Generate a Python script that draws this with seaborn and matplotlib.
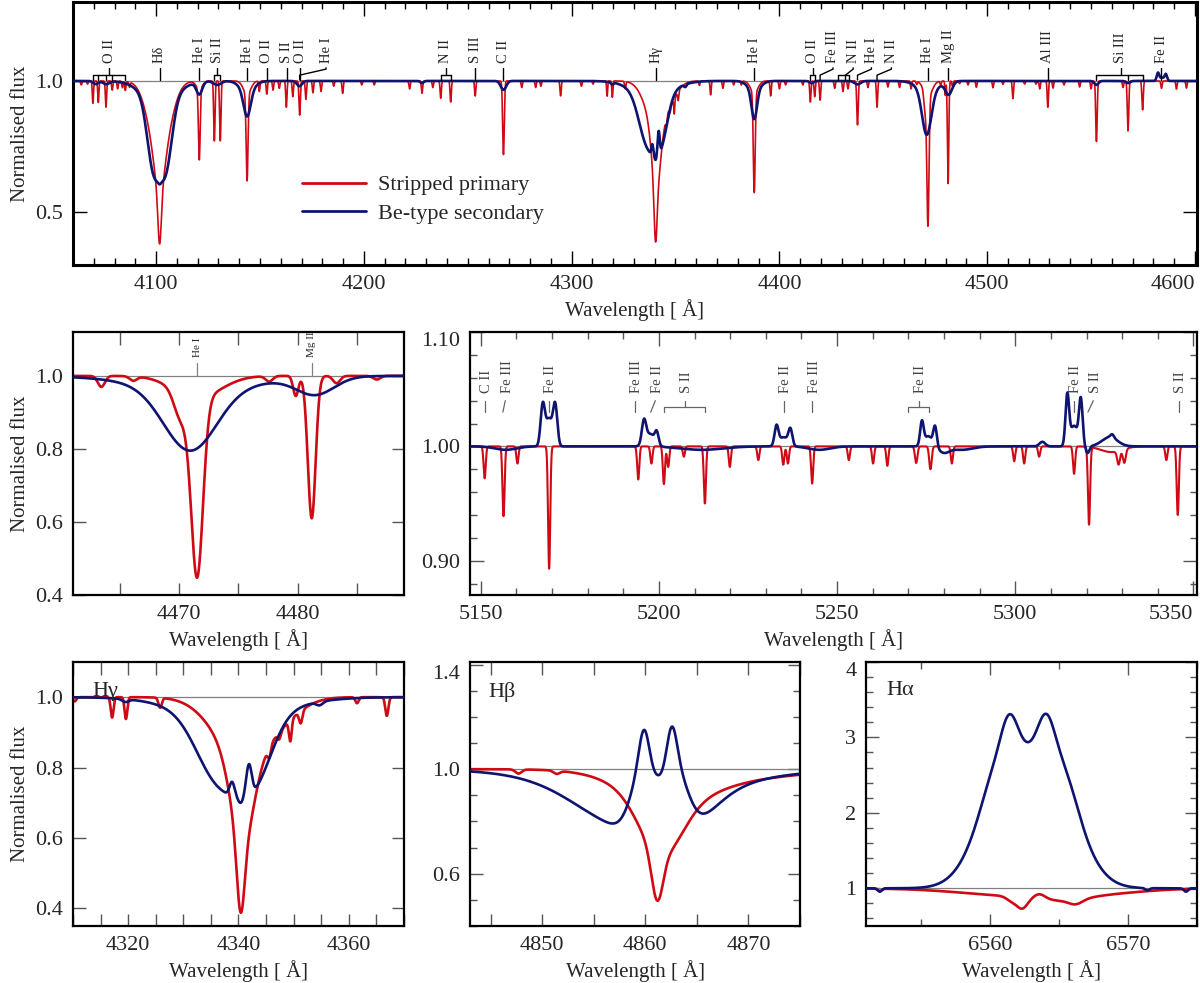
import numpy as np
import matplotlib
matplotlib.use('Agg')
import matplotlib.pyplot as plt
from matplotlib.ticker import MultipleLocator, FuncFormatter
import seaborn as sns

sns.set_style('ticks')
plt.rcParams['font.family'] = ['Liberation Serif', 'DejaVu Serif']

RED = '#cf0a15'
NAVY = '#0e1470'
GREY = '#808080'

# spectral features: (centre [A], depth/height, gaussian width [A])
primary_blue_lines = [
    (4064.0, -0.015, 0.3), (4067.0, -0.012, 0.3),
    (4069.6, -0.085, 0.28), (4072.2, -0.082, 0.28), (4075.9, -0.10, 0.3),
    (4078.9, -0.035, 0.3), (4081.5, -0.03, 0.3), (4083.8, -0.025, 0.3),
    (4085.2, -0.035, 0.3), (4087.2, -0.02, 0.3),
    (4101.7, -0.30, 5.0), (4101.7, -0.13, 2.2), (4101.7, -0.19, 0.8),   # H delta
    (4120.8, -0.27, 0.42), (4120.8, -0.03, 1.5),
    (4128.05, -0.228, 0.33), (4130.9, -0.228, 0.33),
    (4143.8, -0.33, 0.45), (4143.8, -0.05, 1.8),
    (4149.7, -0.04, 0.3), (4153.3, -0.05, 0.3), (4156.3, -0.035, 0.3),
    (4159.3, -0.028, 0.3), (4162.7, -0.10, 0.3), (4165.8, -0.06, 0.3),
    (4169.1, -0.13, 0.33), (4172.1, -0.07, 0.3), (4175.5, -0.045, 0.3),
    (4179.4, -0.04, 0.3), (4185.5, -0.02, 0.3), (4189.8, -0.047, 0.3),
    (4199.0, -0.015, 0.3), (4205.0, -0.015, 0.3), (4222.0, -0.03, 0.3),
    (4228.0, -0.047, 0.3), (4233.2, -0.025, 0.3), (4237.0, -0.066, 0.3),
    (4241.8, -0.08, 0.3), (4253.6, -0.057, 0.3), (4267.2, -0.28, 0.4),
    (4276.0, -0.025, 0.3), (4282.7, -0.025, 0.3), (4285.2, -0.02, 0.3),
    (4294.7, -0.057, 0.3), (4304.7, -0.02, 0.3), (4310.3, -0.012, 0.3),
    (4317.1, -0.058, 0.25), (4319.6, -0.062, 0.25), (4325.8, -0.028, 0.3),
    (4340.4, -0.20, 0.7), (4340.7, -0.24, 2.0), (4340.7, -0.17, 5.0),   # H gamma
    (4348.0, -0.03, 4.0),
    (4345.6, -0.03, 0.3), (4347.4, -0.02, 0.3), (4349.4, -0.06, 0.25),
    (4351.3, -0.035, 0.3), (4361.5, -0.017, 0.3), (4366.9, -0.053, 0.28),
    (4372.8, -0.028, 0.3), (4378.0, -0.015, 0.3), (4381.7, -0.015, 0.3),
    (4387.9, -0.38, 0.45), (4387.9, -0.045, 1.8),
    (4395.8, -0.057, 0.3), (4400.0, -0.03, 0.3), (4403.0, -0.015, 0.3),
    (4411.3, -0.015, 0.3), (4414.9, -0.08, 0.3), (4417.0, -0.06, 0.3),
    (4419.6, -0.073, 0.3), (4426.6, -0.028, 0.3), (4430.6, -0.04, 0.3),
    (4433.0, -0.03, 0.3), (4437.6, -0.167, 0.35), (4442.6, -0.025, 0.3),
    (4447.0, -0.10, 0.3), (4452.2, -0.023, 0.3), (4457.8, -0.025, 0.3),
    (4463.4, -0.03, 0.3), (4466.1, -0.012, 0.3),
    (4471.5, -0.49, 0.5), (4471.5, -0.06, 2.0), (4470.1, -0.07, 0.55),
    (4477.6, -0.015, 0.3), (4479.85, -0.055, 0.22), (4481.2, -0.39, 0.33),
    (4483.3, -0.02, 0.3), (4486.7, -0.01, 0.3), (4490.8, -0.015, 0.3),
    (4494.8, -0.024, 0.3), (4502.8, -0.026, 0.3), (4507.6, -0.013, 0.3),
    (4512.4, -0.067, 0.3), (4518.0, -0.012, 0.3), (4523.5, -0.012, 0.3),
    (4525.3, -0.03, 0.3), (4529.2, -0.10, 0.3), (4531.7, -0.027, 0.3),
    (4537.0, -0.015, 0.3), (4544.5, -0.023, 0.3), (4550.0, -0.03, 0.3),
    (4552.6, -0.23, 0.35), (4565.4, -0.025, 0.3), (4567.8, -0.19, 0.35),
    (4574.8, -0.11, 0.33), (4583.9, -0.028, 0.3), (4591.1, -0.031, 0.3),
    (4595.9, -0.027, 0.3),
]
primary_hbeta_lines = [
    (4847.7, -0.016, 0.3), (4851.4, -0.012, 0.3),
    (4861.15, -0.18, 0.55), (4861.5, -0.20, 2.0), (4862.0, -0.10, 4.0),
    (4867.0, -0.04, 7.0),
]
primary_green_lines = [
    (5151.1, -0.028, 0.3), (5156.4, -0.061, 0.3), (5160.3, -0.015, 0.3),
    (5169.2, -0.107, 0.3), (5194.2, -0.029, 0.3), (5197.9, -0.015, 0.3),
    (5201.4, -0.033, 0.3), (5202.6, -0.018, 0.3), (5207.0, -0.009, 0.3),
    (5212.9, -0.05, 0.3), (5219.9, -0.018, 0.3), (5227.9, -0.012, 0.3),
    (5234.9, -0.016, 0.3), (5236.2, -0.015, 0.3), (5243.0, -0.0325, 0.3),
    (5253.3, -0.012, 0.3), (5260.1, -0.015, 0.3), (5264.1, -0.017, 0.3),
    (5272.2, -0.0145, 0.35), (5276.2, -0.02, 0.35), (5282.2, -0.015, 0.3),
    (5299.7, -0.013, 0.3), (5302.5, -0.015, 0.3), (5306.7, -0.009, 0.3),
    (5316.5, -0.024, 0.3), (5320.7, -0.068, 0.3), (5327.0, -0.005, 3.0),
    (5329.0, -0.012, 0.4), (5330.6, -0.012, 0.4), (5342.4, -0.012, 0.3),
    (5345.6, -0.06, 0.3),
]
primary_halpha_lines = [
    (6552.0, -0.03, 0.15), (6563.0, -0.11, 4.5), (6562.3, -0.15, 0.4),
    (6561.5, -0.05, 0.35), (6563.6, 0.06, 0.4), (6565.5, -0.05, 1.5),
    (6566.2, -0.06, 0.5), (6568.5, -0.03, 3.0),
]

secondary_blue_lines = [
    (4071.0, -0.012, 1.2), (4076.0, -0.012, 1.5),
    (4098.7, -0.25, 3.0), (4104.7, -0.25, 3.0), (4101.7, -0.08, 8.0),   # H delta
    (4101.7, -0.01, 0.7),
    (4120.8, -0.047, 1.4), (4129.5, -0.015, 1.8),
    (4143.8, -0.10, 1.7), (4143.8, -0.035, 3.5),
    (4169.0, -0.02, 1.2), (4228.0, -0.008, 0.8), (4267.2, -0.034, 1.3),
    (4319.5, -0.008, 0.6),
    (4336.5, -0.18, 4.0), (4343.0, -0.16, 3.2), (4339.0, -0.06, 9.0),   # H gamma
    (4338.85, 0.04, 0.45), (4340.4, -0.015, 0.45), (4341.9, 0.09, 0.5),
    (4354.7, -0.01, 0.6),
    (4387.9, -0.11, 1.3), (4387.9, -0.035, 3.0),
    (4415.5, -0.008, 1.0), (4437.6, -0.013, 1.5),
    (4470.9, -0.17, 2.2), (4471.5, -0.035, 5.0),
    (4481.5, -0.048, 1.6),
    (4552.6, -0.015, 1.0), (4567.8, -0.008, 1.0),
    (4582.2, 0.03, 0.6), (4586.0, 0.025, 0.6), (4584.1, 0.012, 1.0),
]
secondary_hbeta_lines = [
    (4858.0, -0.13, 4.5), (4863.5, -0.11, 3.0), (4860.5, -0.09, 8.0),
    (4859.7, 0.24, 1.1), (4859.9, 0.16, 0.5), (4861.2, 0.05, 0.6),
    (4862.9, 0.26, 1.2), (4862.55, 0.17, 0.5),
]
secondary_green_lines = [
    (5157.0, -0.003, 3.0),
    (5167.4, 0.035, 0.6), (5170.9, 0.035, 0.6), (5169.15, 0.024, 0.9),
    (5195.8, 0.02, 0.6), (5197.6, 0.011, 1.3), (5199.4, 0.01, 0.5),
    (5212.0, -0.003, 6.0),
    (5233.0, 0.017, 0.55), (5236.9, 0.014, 0.55), (5235.0, 0.008, 1.2),
    (5245.0, -0.003, 3.0),
    (5273.8, 0.021, 0.5), (5277.5, 0.018, 0.5), (5275.6, 0.009, 1.0),
    (5280.0, -0.005, 1.5), (5285.0, -0.003, 3.0),
    (5307.6, 0.004, 0.8),
    (5314.6, 0.043, 0.5), (5318.4, 0.039, 0.5), (5316.5, 0.018, 1.1),
    (5320.3, -0.006, 0.5), (5326.5, 0.008, 2.2), (5327.2, 0.003, 0.5),
]
secondary_halpha_lines = [
    (6561.1, 1.35, 1.95), (6564.5, 1.35, 1.95),
    (6561.4, 0.5, 0.6), (6564.07, 0.5, 0.6),
    (6560.2, 0.22, 0.9), (6565.5, 0.25, 0.9),
    (6552.0, -0.045, 0.15), (6571.4, -0.03, 0.15), (6574.2, -0.045, 0.15),
]

primary_lines = primary_blue_lines + primary_hbeta_lines + primary_green_lines + primary_halpha_lines
secondary_lines = secondary_blue_lines + secondary_hbeta_lines + secondary_green_lines + secondary_halpha_lines

# line identifications: (label, wavelengths of the lines, where the label sits)
top_marks = [
    ('O II', [4069.6, 4072.2, 4075.9, 4078.9, 4085.2], 4077.4),
    ('Hδ', [4101.7], 4101.7),
    ('He I', [4120.8], 4120.8),
    ('Si II', [4128.05, 4130.9], 4129.5),
    ('He I', [4143.8], 4143.8),
    ('O II', [4153.3], 4153.3),
    ('S II', [4162.8], 4162.8),
    ('O II', [4169.1], 4169.6),
    ('He I', [4169.1], 4181.8),
    ('N II', [4237.0, 4241.8], 4239.4),
    ('S III', [4253.6], 4253.6),
    ('C II', [4267.2], 4267.2),
    ('Hγ', [4340.5], 4340.5),
    ('He I', [4387.9], 4387.9),
    ('O II', [4414.9, 4417.0], 4416.0),
    ('Fe III', [4419.6], 4425.8),
    ('N II', [4428.2, 4431.8, 4433.5], 4435.5),
    ('He I', [4437.6], 4444.3),
    ('N II', [4447.0], 4453.9),
    ('He I', [4471.5], 4471.5),
    ('Mg II', [4481.2], 4481.2),
    ('Al III', [4529.2], 4529.2),
    ('Si III', [4552.6, 4567.8, 4574.8], 4564.3),
    ('Fe II', [4583.9], 4583.9),
]
green_marks = [
    ('C II', [5151.1], 5151.1),
    ('Fe III', [5156.2], 5156.9),
    ('Fe II', [5169.2], 5169.2),
    ('Fe III', [5193.3], 5193.3),
    ('Fe II', [5197.7], 5199.0),
    ('S II', [5201.4, 5212.9], 5207.2),
    ('Fe II', [5235.0], 5235.0),
    ('Fe III', [5243.1], 5243.1),
    ('Fe II', [5269.9, 5275.9], 5272.9),
    ('Fe II', [5316.5], 5316.5),
    ('S II', [5320.4], 5321.9),
    ('S II', [5345.9], 5345.9),
]
hei_marks = [('He I', 4471.5), ('Mg II', 4481.2)]


def model(wl, lines):
    flux = np.ones_like(wl)
    for c, a, w in lines:
        flux += a * np.exp(-0.5 * ((wl - c) / w) ** 2)
    return flux


def draw_spectra(ax, lo, hi, step, lw_red, lw_blue, legend=False):
    wl = np.arange(lo, hi + step, step)
    ax.axhline(1.0, color=GREY, lw=0.9, zorder=1)
    sns.lineplot(x=wl, y=model(wl, primary_lines), ax=ax, color=RED, lw=lw_red,
                 estimator=None, sort=False, label='Stripped primary' if legend else None, zorder=2)
    sns.lineplot(x=wl, y=model(wl, secondary_lines), ax=ax, color=NAVY, lw=lw_blue,
                 estimator=None, sort=False, label='Be-type secondary' if legend else None, zorder=3)
    ax.set_xlim(lo, hi)


def style(ax, spine_w=1.6, tick_color='#555555'):
    for s in ax.spines.values():
        s.set_linewidth(spine_w)
        s.set_color('black')
    ax.tick_params(which='both', direction='in', top=True, right=True,
                   color=tick_color, width=1.0, labelsize=16, pad=7)
    ax.tick_params(which='major', length=9)
    ax.tick_params(which='minor', length=5)
    ax.set_xlabel('Wavelength [ Å]', fontsize=15, labelpad=4)


def every(n, fmt='{:.0f}'):
    return FuncFormatter(lambda v, p: fmt.format(v) if abs(v / n - round(v / n)) < 1e-6 else '')


fig = plt.figure(figsize=(12, 9.83), dpi=100)

# ---- top: full blue range ----
ax = fig.add_axes([0.0608, 0.7304, 0.9367, 0.2675])
draw_spectra(ax, 4060, 4601, 0.04, 1.2, 1.9, legend=True)
ax.set_ylim(0.3, 1.3)
ax.xaxis.set_major_locator(MultipleLocator(100))
ax.xaxis.set_minor_locator(MultipleLocator(10))
ax.set_yticks([0.5, 1.0])
ax.set_yticklabels(['0.5', '1.0'])
style(ax, spine_w=2.2, tick_color='black')
ax.tick_params(which='major', length=10)
ax.set_ylabel('Normalised flux', fontsize=15)
for lbl in ax.get_xticklabels():
    if lbl.get_text() == '4600':
        lbl.set_ha('right')
for name, lines, lx in top_marks:
    kw = dict(color='black', lw=1.0, zorder=4)
    if len(lines) == 1 and abs(lx - lines[0]) < 1:
        ax.plot([lines[0], lines[0]], [1.004, 1.05], **kw)
    elif len(lines) == 1:
        ax.plot([lines[0], lines[0], lx, lx], [1.004, 1.022, 1.045, 1.05], **kw)
    else:
        ax.plot([min(lines), max(lines)], [1.022, 1.022], **kw)
        for l in lines:
            ax.plot([l, l], [1.004, 1.022], **kw)
        if min(lines) <= lx <= max(lines):
            ax.plot([lx, lx], [1.022, 1.05], **kw)
        else:
            ax.plot([lines[-2], lx, lx], [1.022, 1.045, 1.05], **kw)
    ax.text(lx, 1.07, name, rotation=90, ha='center', va='bottom', fontsize=10.5)
leg = ax.legend(loc='center left', bbox_to_anchor=(0.2035, 0.25), frameon=False,
                fontsize=16, handlelength=2.9, handletextpad=0.55, labelspacing=0.35,
                borderpad=0, borderaxespad=0)
for h in leg.get_lines():
    h.set_linewidth(2.0)

# ---- middle left: He I 4471 / Mg II 4481 ----
ax = fig.add_axes([0.0608, 0.3947, 0.2758, 0.2675])
draw_spectra(ax, 4461, 4489, 0.01, 1.9, 1.9)
ax.set_ylim(0.4, 1.12)
ax.xaxis.set_major_locator(MultipleLocator(5))
ax.xaxis.set_major_formatter(every(10))
ax.set_yticks([0.4, 0.6, 0.8, 1.0])
ax.set_yticklabels(['0.4', '0.6', '0.8', '1.0'])
style(ax)
ax.set_ylabel('Normalised flux', fontsize=15)
for name, lx in hei_marks:
    ax.plot([lx, lx], [1.0, 1.035], color=GREY, lw=0.9, zorder=4)
    ax.text(lx, 1.053, name, rotation=90, ha='center', va='bottom', fontsize=8)

# ---- middle right: Fe II region ----
ax = fig.add_axes([0.3917, 0.3947, 0.6058, 0.2675])
draw_spectra(ax, 5147, 5351, 0.04, 1.5, 1.9)
ax.set_ylim(0.87, 1.10)
ax.xaxis.set_major_locator(MultipleLocator(50))
ax.xaxis.set_minor_locator(MultipleLocator(10))
ax.set_yticks([0.90, 1.00, 1.10])
ax.set_yticklabels(['0.90', '1.00', '1.10'])
ax.yaxis.set_minor_locator(MultipleLocator(0.02))
style(ax)
ax.tick_params(which='major', length=10)
for lbl in ax.get_xticklabels():
    if lbl.get_text() == '5350':
        lbl.set_ha('right')
for lbl in ax.get_yticklabels():
    if lbl.get_text() == '1.10':
        lbl.set_va('top')
gkw = dict(color='#666666', lw=0.9, zorder=4)
for name, lines, lx in green_marks:
    if len(lines) == 1:
        ax.plot([lines[0], lx], [1.030, 1.040], **gkw)
    else:
        ax.plot([lines[0], lines[0], lines[-1], lines[-1]], [1.030, 1.0348, 1.0348, 1.030], **gkw)
        ax.plot([lx, lx], [1.0348, 1.040], **gkw)
    ax.text(lx + 0.5, 1.0464, name, rotation=90, ha='center', va='bottom',
            fontsize=10.5, color='#444444')

# ---- bottom row: Balmer lines ----
ax = fig.add_axes([0.0608, 0.058, 0.2758, 0.2686])
draw_spectra(ax, 4310, 4370, 0.01, 1.9, 1.9)
ax.set_ylim(0.35, 1.1)
ax.xaxis.set_major_locator(MultipleLocator(5))
ax.xaxis.set_major_formatter(every(20))
ax.set_yticks([0.4, 0.6, 0.8, 1.0])
ax.set_yticklabels(['0.4', '0.6', '0.8', '1.0'])
style(ax)
ax.set_ylabel('Normalised flux', fontsize=15)
ax.text(4313.6, 1.004, 'Hγ', fontsize=16, ha='left', va='baseline')

ax = fig.add_axes([0.3917, 0.058, 0.275, 0.2686])
draw_spectra(ax, 4843, 4875, 0.01, 1.9, 1.9)
ax.set_ylim(0.4, 1.41)
ax.xaxis.set_major_locator(MultipleLocator(5))
ax.xaxis.set_major_formatter(every(10))
ax.set_yticks([0.6, 1.0, 1.4])
ax.set_yticklabels(['0.6', '1.0', '1.4'])
ax.yaxis.set_minor_locator(MultipleLocator(0.1))
style(ax)
for lbl in ax.get_yticklabels():
    if lbl.get_text() == '1.4':
        lbl.set_va('top')
ax.text(4844.8, 1.275, 'Hβ', fontsize=16, ha='left', va='baseline')

ax = fig.add_axes([0.7217, 0.058, 0.2758, 0.2686])
draw_spectra(ax, 6551, 6575, 0.01, 1.9, 1.9)
ax.set_ylim(0.5, 4.0)
ax.xaxis.set_major_locator(MultipleLocator(10))
ax.xaxis.set_minor_locator(MultipleLocator(5))
ax.set_yticks([1, 2, 3, 4])
ax.set_yticklabels(['1', '2', '3', '4'])
ax.yaxis.set_minor_locator(MultipleLocator(0.2))
style(ax)
for lbl in ax.get_yticklabels():
    if lbl.get_text() == '4':
        lbl.set_va('top')
ax.text(6552.5, 3.56, 'Hα', fontsize=16, ha='left', va='baseline')

fig.savefig('out.png', dpi=100)
